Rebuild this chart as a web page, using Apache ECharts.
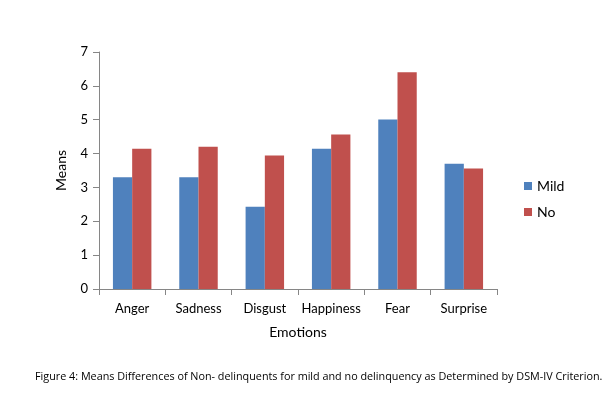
<!DOCTYPE html>
<html>
<head>
<meta charset="utf-8">
<script src="https://cdn.jsdelivr.net/npm/echarts@6/dist/echarts.min.js"></script>
<style>
  html, body { margin: 0; padding: 0; background: #fff; }
  #chart { width: 612px; height: 394px; }
</style>
</head>
<body>
<div id="chart"></div>
<script>
const categories = ['Anger', 'Sadness', 'Disgust', 'Happiness', 'Fear', 'Surprise']
const mildValues = [3.3, 3.3, 2.43, 4.14, 5.01, 3.7]
const noValues = [4.14, 4.2, 3.94, 4.56, 6.4, 3.56]
const seriesNames = ['Mild', 'No']
const caption = 'Figure 4: Means Differences of Non- delinquents for mild and no delinquency as Determined by DSM-IV Criterion.'

const chart = echarts.init(document.getElementById('chart'))
const axisColor = '#868686'
const font = 'Lato, "Open Sans", sans-serif'

const option = {
  animation: false,
  color: ['#4F81BD', '#C0504D'],
  textStyle: { fontFamily: font },
  grid: { left: 99, right: 115, top: 52, bottom: 105 },
  legend: {
    orient: 'vertical',
    left: 519,
    top: 174,
    itemWidth: 8,
    itemHeight: 8,
    itemGap: 12,
    icon: 'rect',
    textStyle: { fontSize: 14, color: '#000', fontFamily: font },
    data: seriesNames,
  },
  xAxis: {
    type: 'category',
    data: categories,
    name: 'Emotions',
    nameLocation: 'middle',
    nameGap: 36,
    nameTextStyle: { fontSize: 14, color: '#000' },
    axisLine: { lineStyle: { color: axisColor } },
    axisTick: { show: true, interval: 0, length: 6, lineStyle: { color: axisColor } },
    axisLabel: { color: '#000', fontSize: 13, margin: 13, interval: 0 },
  },
  yAxis: {
    type: 'value',
    min: 0,
    max: 7,
    interval: 1,
    name: 'Means',
    nameLocation: 'middle',
    nameRotate: 90,
    nameGap: 31,
    nameTextStyle: { fontSize: 14, color: '#000' },
    axisLine: { show: true, lineStyle: { color: axisColor } },
    axisTick: { show: true, length: 6, lineStyle: { color: axisColor } },
    axisLabel: { color: '#000', fontSize: 13, margin: 11 },
    splitLine: { show: false },
  },
  series: [
    {
      name: seriesNames[0],
      type: 'bar',
      data: mildValues,
      barGap: '0%',
      barCategoryGap: '42%',
    },
    {
      name: seriesNames[1],
      type: 'bar',
      data: noValues,
      barGap: '0%',
      barCategoryGap: '42%',
    },
  ],
  graphic: [
    {
      type: 'text',
      left: 35,
      top: 371,
      style: {
        text: caption,
        fontSize: 10.8,
        fill: '#000',
        fontFamily: '"Open Sans", sans-serif',
      },
    },
  ],
}

chart.setOption(option)
</script>
</body>
</html>
